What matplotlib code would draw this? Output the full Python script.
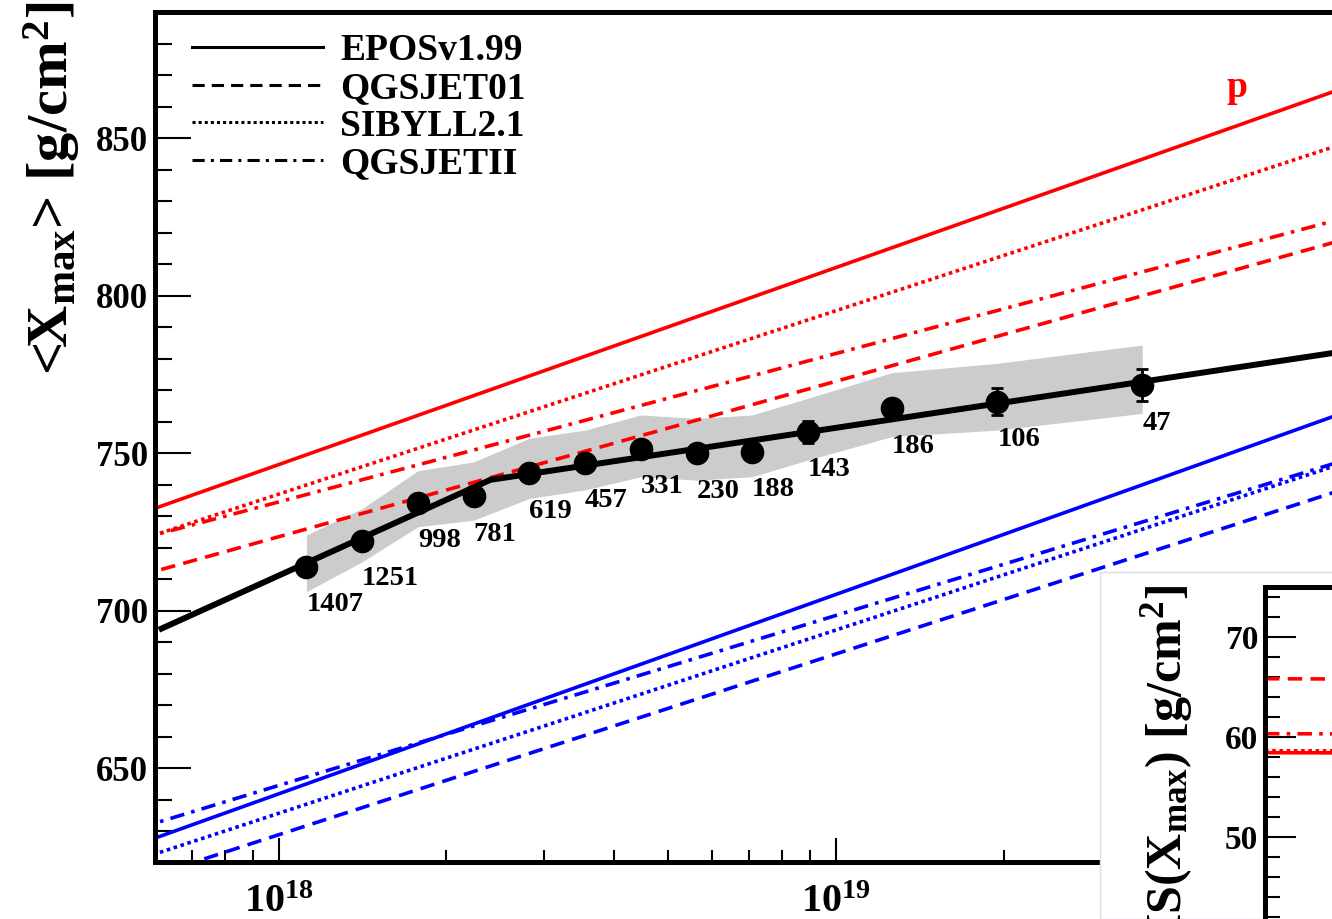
import numpy as np
import matplotlib.pyplot as plt
from matplotlib.lines import Line2D
from matplotlib.patches import Rectangle

plt.rcParams['font.family'] = ['Liberation Serif', 'DejaVu Serif']
plt.rcParams['font.weight'] = 'bold'
plt.rcParams['mathtext.fontset'] = 'custom'
plt.rcParams['mathtext.rm'] = 'Liberation Serif:bold'
plt.rcParams['mathtext.it'] = 'Liberation Serif:bold'
plt.rcParams['mathtext.bf'] = 'Liberation Serif:bold'

# measured <Xmax> per energy bin, lg(E/eV)
lg_e = [18.05, 18.15, 18.25, 18.35, 18.45, 18.55, 18.65, 18.75, 18.85, 18.95, 19.10, 19.29, 19.55]
xmax_mean = [713.9, 722.2, 734.3, 736.3, 743.6, 746.9, 751.3, 749.9, 750.4, 756.8, 764.2, 766.3, 771.6]
xmax_stat = [1.0, 1.1, 1.3, 1.4, 1.6, 1.8, 2.1, 2.4, 2.6, 3.5, 3.0, 4.2, 5.0]
sys_hi = [724.0, 732.4, 744.4, 747.2, 754.7, 757.3, 762.1, 761.0, 762.1, 767.4, 775.5, 778.5, 784.3]
sys_lo = [706.0, 715.5, 726.6, 728.7, 735.6, 738.3, 742.5, 741.4, 742.5, 747.8, 755.2, 757.3, 762.6]
n_events = [1407, 1251, 998, 781, 619, 457, 331, 230, 188, 143, 186, 106, 47]

# broken-line fit
fit_lg = [17.79, 18.38, 19.95]
fit_xmax = [694.3, 741.5, 783.3]

# model predictions (proton / iron)
model_lg = [17.75, 20.0]
models = ['EPOSv1.99', 'QGSJET01', 'SIBYLL2.1', 'QGSJETII']
styles = {'EPOSv1.99': '-', 'QGSJET01': (0, (4, 2.3)),
          'SIBYLL2.1': (0, (1, 1)), 'QGSJETII': (0, (4, 2, 1, 2))}
proton = {'EPOSv1.99': [730.7, 871.4], 'QGSJET01': [711.1, 822.1],
          'SIBYLL2.1': [722.4, 853.4], 'QGSJETII': [722.7, 828.7]}
iron = {'EPOSv1.99': [626.0, 768.4], 'QGSJET01': [614.5, 743.6],
        'SIBYLL2.1': [621.1, 752.0], 'QGSJETII': [631.0, 752.4]}

# RMS inset (proton)
rms_lg = [17.8, 20.0]
rms_proton = {'EPOSv1.99': [58.4, 58.3], 'QGSJET01': [65.8, 65.6],
              'SIBYLL2.1': [58.6, 58.5], 'QGSJETII': [60.3, 60.2]}

W, H = 1332, 919
fig = plt.figure(figsize=(W / 100, H / 100), dpi=100)
ax = fig.add_axes([155 / W, 1 - 862 / H, 1238 / W, 850 / H])

e = 10 ** np.array(lg_e)
ax.fill_between(e, sys_lo, sys_hi, color='#cccccc', lw=0, zorder=1)

for m in models:
    ax.plot(10 ** np.array(model_lg), proton[m], color='red', ls=styles[m], lw=2.6, zorder=2)
    ax.plot(10 ** np.array(model_lg), iron[m], color='blue', ls=styles[m], lw=2.6, zorder=2)

ax.plot(10 ** np.array(fit_lg), fit_xmax, color='black', lw=4.3, zorder=3)
ax.errorbar(e, xmax_mean, yerr=xmax_stat, fmt='o', ms=16, color='black',
            elinewidth=2, capsize=4, capthick=2, zorder=4)

for xi, yi, n in zip(e, xmax_mean, n_events):
    ax.annotate(str(n), (xi, yi), xytext=(0, -38), textcoords='offset pixels',
                ha='left', va='center', fontsize=20.5, fontweight='bold')

ax.text(10 ** 19.72, 866, 'p', color='red', fontsize=27, ha='center', va='center')

ax.set_xscale('log')
ax.set_yticks([650, 700, 750, 800, 850])
ax.set_yticks(np.arange(630, 890, 10), minor=True)
ax.set_xticks([1e18, 1e19, 1e20])
ax.set_xticklabels([r'10$^{18}$', r'10$^{19}$', r'10$^{20}$'])
minors = [k * 10.0 ** d for d in (17, 18, 19) for k in range(2, 10)]
ax.set_xticks(minors, minor=True)
ax.set_xticklabels([], minor=True)
ax.set_xlim(6e17, 1e20)
ax.set_ylim(620.2, 890)

ax.tick_params(axis='y', which='major', direction='in', length=26, width=1.5,
               labelsize=25, pad=5)
ax.tick_params(axis='y', which='minor', direction='in', length=12, width=1.5)
ax.tick_params(axis='x', which='major', direction='in', length=17, width=1.5,
               labelsize=29, pad=16)
ax.tick_params(axis='x', which='minor', direction='in', length=9, width=1.5)
for s in ax.spines.values():
    s.set_linewidth(3.6)

handles = [Line2D([], [], color='black', ls=styles[m], lw=2.2) for m in models]
ax.legend(handles, models, loc='upper left', bbox_to_anchor=(0.03, 0.975),
          frameon=False, fontsize=27, handlelength=3.5, handletextpad=0.45,
          labelspacing=0.07, borderpad=0, borderaxespad=0)

fig.text(52 / W, 1 - 2 / H, r'<X$_{\rm max}$> [g/cm$^{2}$]', rotation=90,
         ha='center', va='top', fontsize=42, fontweight='bold')

# inset pad covering lower right corner
fig.add_artist(Rectangle((1100 / W, 0), 1, (919 - 572) / H, transform=fig.transFigure,
                         facecolor='white', edgecolor='#dcdcf0', lw=1, zorder=1))

axi = fig.add_axes([1265 / W, 1 - 936.7 / H, 500 / W, 350 / H], zorder=2)
for m in models:
    axi.plot(rms_lg, rms_proton[m], color='red', ls=styles[m], lw=2.6)
axi.set_xlim(17.8, 20.0)
axi.set_ylim(40, 75)
axi.set_xticks([])
axi.set_yticks([50, 60, 70])
axi.set_yticks(np.arange(42, 75, 2), minor=True)
axi.tick_params(axis='y', which='major', direction='in', length=22, width=1.5,
                labelsize=24, pad=5)
axi.tick_params(axis='y', which='minor', direction='in', length=11, width=1.5)
for s in axi.spines.values():
    s.set_linewidth(3.6)

fig.text(1167 / W, 1 - 585 / H, r'RMS(X$_{\rm max}$) [g/cm$^{2}$]', rotation=90,
         ha='center', va='top', fontsize=36, fontweight='bold', zorder=3)

fig.savefig('out.png', dpi=100)
